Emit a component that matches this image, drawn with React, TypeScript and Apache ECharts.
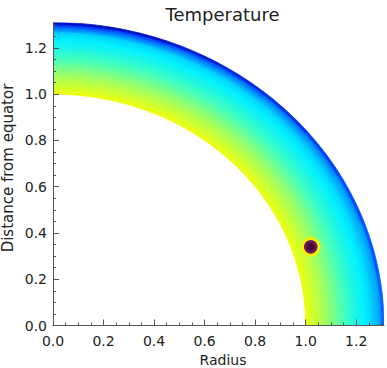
import React, { useEffect, useRef } from "react";
import * as echarts from "echarts";

// Axis ticks
const majorTicks = [0, 0.2, 0.4, 0.6, 0.8, 1.0, 1.2];
const minorTicks = [
  0.05, 0.1, 0.15, 0.25, 0.3, 0.35, 0.45, 0.5, 0.55, 0.65, 0.7, 0.75,
  0.85, 0.9, 0.95, 1.05, 1.1, 1.15, 1.25, 1.3,
];
const axisMin = 0;
const axisMax = 1.31;

// Inner shell: radial bands, same temperature at every latitude
const bandInner = [
  1.0, 1.01, 1.02, 1.03, 1.04, 1.05, 1.06, 1.07, 1.08, 1.09, 1.1, 1.11, 1.12,
  1.13, 1.14, 1.15, 1.16, 1.17, 1.18, 1.19, 1.2, 1.21, 1.22, 1.23, 1.24, 1.25,
  1.26,
];
const bandOuter = [
  1.01, 1.02, 1.03, 1.04, 1.05, 1.06, 1.07, 1.08, 1.09, 1.1, 1.11, 1.12, 1.13,
  1.14, 1.15, 1.16, 1.17, 1.18, 1.19, 1.2, 1.21, 1.22, 1.23, 1.24, 1.25, 1.26,
  1.27,
];
const bandTemperature = [
  1.0, 0.978, 0.956, 0.934, 0.912, 0.89, 0.868, 0.846, 0.824, 0.802, 0.78,
  0.758, 0.736, 0.714, 0.692, 0.67, 0.648, 0.626, 0.604, 0.582, 0.56, 0.54,
  0.52, 0.5, 0.48, 0.46, 0.43,
];

// Outer shell: temperature by radius band and latitude sector (equator -> pole)
const shellInner = [1.27, 1.28, 1.29, 1.3];
const shellOuter = [1.28, 1.29, 1.3, 1.31];
const sectorStartDeg = [0, 10, 20, 30, 40, 50, 60, 70, 80];
const sectorEndDeg = [10, 20, 30, 40, 50, 60, 70, 80, 90];
const shellTemperature = [
  [0.4, 0.4, 0.39, 0.38, 0.37, 0.36, 0.35, 0.34, 0.33],
  [0.37, 0.36, 0.35, 0.33, 0.32, 0.3, 0.29, 0.27, 0.26],
  [0.33, 0.32, 0.3, 0.28, 0.26, 0.23, 0.21, 0.19, 0.17],
  [0.22, 0.2, 0.18, 0.15, 0.12, 0.1, 0.07, 0.05, 0.04],
];

const temperatureColors = [
  "#0000b4",
  "#0046ff",
  "#00a0ff",
  "#00f0ff",
  "#40ffc0",
  "#a0ff60",
  "#ecff10",
];

// Marked spot
const spotRadius = [1.02];
const spotHeight = [0.34];

const FONT = '"DejaVu Sans", sans-serif';

export default function App() {
  const ref = useRef<HTMLDivElement>(null);

  useEffect(() => {
    if (!ref.current) return;
    const chart = echarts.init(ref.current, null, { renderer: "svg" });

    const cellData: number[][] = [];
    bandInner.forEach((r, i) => {
      cellData.push([r, bandOuter[i], 0, 90, bandTemperature[i]]);
    });
    shellInner.forEach((r, i) => {
      sectorStartDeg.forEach((a, j) => {
        cellData.push([r, shellOuter[i], a, sectorEndDeg[j], shellTemperature[i][j]]);
      });
    });
    const spotData = spotRadius.map((r, i) => [r, spotHeight[i]]);

    const axisColor = "#555";
    const labelStyle = { fontSize: 14, color: "#222", fontFamily: FONT };

    const mkAxes = (dir: "x" | "y") => {
      const isX = dir === "x";
      return [
        {
          type: "value",
          gridIndex: 0,
          min: axisMin,
          max: axisMax,
          position: isX ? "bottom" : "left",
          z: 10,
          axisLine: { show: true, onZero: false, lineStyle: { color: axisColor, width: 1 } },
          axisTick: {
            show: true,
            inside: true,
            length: 6,
            customValues: majorTicks,
            lineStyle: { color: axisColor, width: 1 },
          },
          axisLabel: {
            show: true,
            customValues: majorTicks,
            formatter: (v: number) => v.toFixed(1),
            margin: isX ? 8 : 6,
            ...labelStyle,
          },
          splitLine: { show: false },
        },
        {
          type: "value",
          gridIndex: 0,
          min: axisMin,
          max: axisMax,
          position: isX ? "bottom" : "left",
          z: 10,
          axisLine: { show: false, onZero: false },
          axisTick: {
            show: true,
            inside: true,
            length: 3,
            customValues: minorTicks,
            lineStyle: { color: axisColor, width: 1 },
          },
          axisLabel: { show: false },
          splitLine: { show: false },
        },
      ];
    };

    chart.setOption({
      animation: false,
      textStyle: { fontFamily: FONT },
      grid: { left: 53, right: 3, top: 22.5, bottom: 42.5, containLabel: false },
      xAxis: mkAxes("x"),
      yAxis: mkAxes("y"),
      visualMap: {
        show: false,
        type: "continuous",
        min: 0,
        max: 1,
        dimension: 4,
        seriesIndex: 0,
        inRange: { color: temperatureColors },
      },
      series: [
        {
          type: "custom",
          xAxisIndex: 0,
          yAxisIndex: 0,
          clip: true,
          data: cellData,
          encode: { x: [0, 1], y: [0, 1] },
          renderItem: (params: any, api: any) => {
            const r0 = api.value(0);
            const r1 = api.value(1);
            const a0 = (api.value(2) * Math.PI) / 180;
            const a1 = (api.value(3) * Math.PI) / 180;
            const seg = Math.max(2, Math.round(((a1 - a0) * 180) / Math.PI));
            const pts: number[][] = [];
            for (let i = 0; i <= seg; i++) {
              const a = a0 + ((a1 - a0) * i) / seg;
              pts.push(api.coord([r0 * Math.cos(a), r0 * Math.sin(a)]));
            }
            for (let i = seg; i >= 0; i--) {
              const a = a0 + ((a1 - a0) * i) / seg;
              pts.push(api.coord([r1 * Math.cos(a), r1 * Math.sin(a)]));
            }
            const color = api.visual("color");
            return {
              type: "polygon",
              shape: { points: pts },
              style: { fill: color, stroke: color, lineWidth: 0.8 },
            };
          },
        },
        {
          type: "scatter",
          xAxisIndex: 0,
          yAxisIndex: 0,
          z: 5,
          symbol: "circle",
          symbolSize: 16.5,
          data: spotData,
          itemStyle: { color: "#6a1a5a", borderColor: "#f2f200", borderWidth: 3, opacity: 1 },
          emphasis: { disabled: true },
        },
        {
          type: "scatter",
          xAxisIndex: 0,
          yAxisIndex: 0,
          z: 6,
          symbol: "circle",
          symbolSize: 8,
          data: spotData,
          itemStyle: { color: "#4c0034", opacity: 1 },
          emphasis: { disabled: true },
        },
      ],
      graphic: [
        {
          type: "text",
          x: 222.5,
          y: 14,
          style: {
            text: "Temperature",
            fontSize: 18,
            fontFamily: FONT,
            fill: "#222",
            align: "center",
            verticalAlign: "middle",
          },
        },
        {
          type: "text",
          x: 223,
          y: 359.5,
          style: {
            text: "Radius",
            fontSize: 14,
            fontFamily: FONT,
            fill: "#222",
            align: "center",
            verticalAlign: "middle",
          },
        },
        {
          type: "text",
          x: 7.5,
          y: 168,
          rotation: Math.PI / 2,
          style: {
            text: "Distance from equator",
            fontSize: 15,
            fontFamily: FONT,
            fill: "#222",
            align: "center",
            verticalAlign: "middle",
          },
        },
      ],
    });

    return () => chart.dispose();
  }, []);

  return (
    <div
      ref={ref}
      style={{ position: "fixed", left: 0, top: 0, width: 387, height: 368, background: "#fff" }}
    />
  );
}
